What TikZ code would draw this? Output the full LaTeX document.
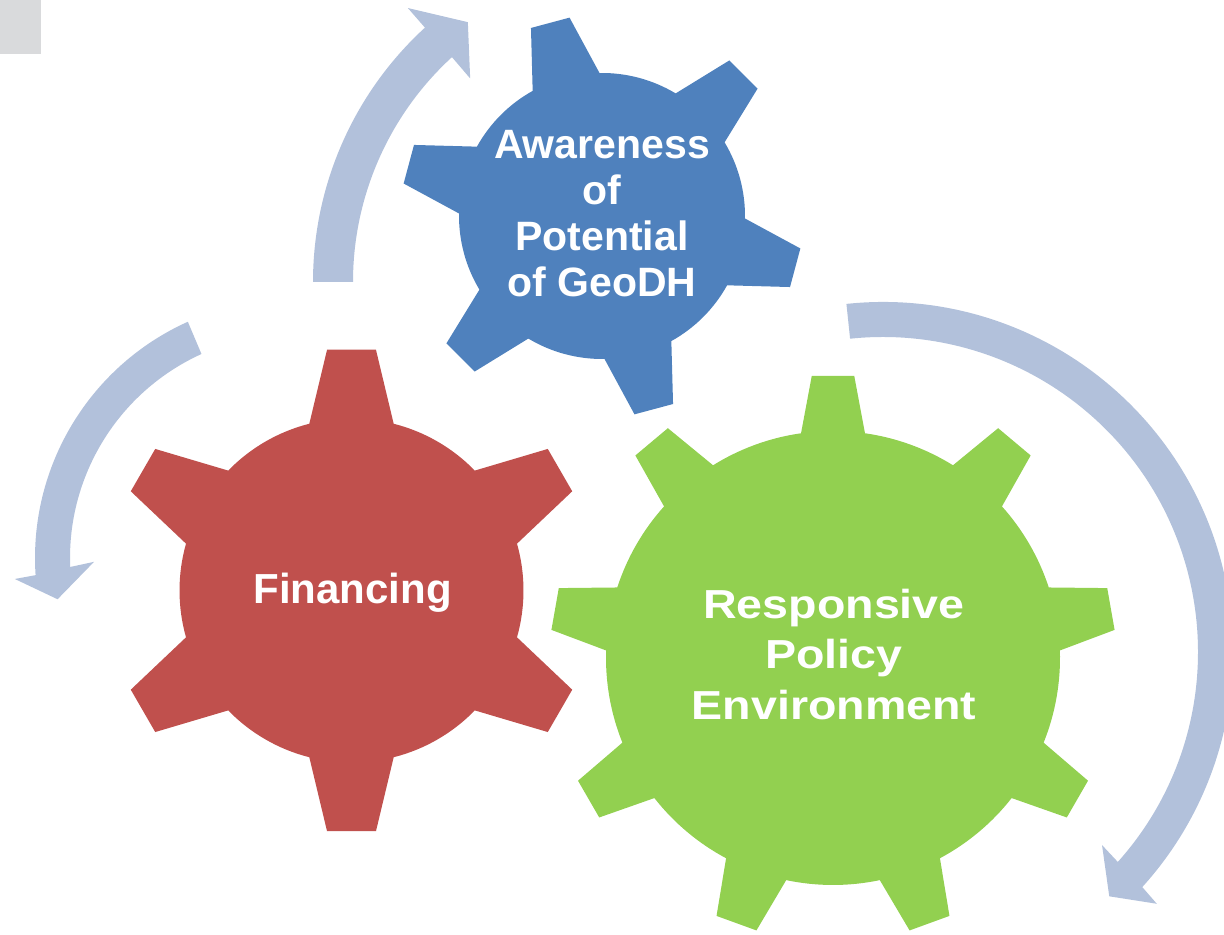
\documentclass[tikz,border=0pt]{standalone}
\usepackage{fontspec}
\setmainfont{Liberation Sans}
\newfontfamily\widesans[FakeStretch=1.15]{Liberation Sans}
\usepackage{color}

\definecolor{arrowblue}{HTML}{B2C1DB}
\definecolor{gearblue}{HTML}{4F81BD}
\definecolor{gearred}{HTML}{C0504D}
\definecolor{geargreen}{HTML}{92D050}
\definecolor{cornergray}{HTML}{D9DADC}

% #1 centre, #2 teeth, #3 first tooth angle, #4 tip radius, #5 body radius,
% #6 half angle at tip, #7 half angle at base, #8 colour
\newcommand{\drawgear}[8]{%
  \pgfmathsetmacro{\gstep}{360/#2}
  \fill[#8, shift={#1}] ({#3-#7}:#5)
    \foreach \k in {1,...,#2}{
      -- ({#3+(\k-1)*\gstep-#6}:#4) -- ({#3+(\k-1)*\gstep+#6}:#4)
      -- ({#3+(\k-1)*\gstep+#7}:#5)
      arc[start angle={#3+(\k-1)*\gstep+#7}, end angle={#3+\k*\gstep-#7}, radius=#5]
    } -- cycle;
}

\begin{document}
\begin{tikzpicture}[x=0.5pt, y=0.5pt,
  gearlabel/.style={text=white, inner sep=0pt, align=center}]
  \useasboundingbox (0,0) rectangle (1224,935);
  \clip (0,0) rectangle (1224,935);

  \fill[cornergray] (0,881) rectangle (41,935);

  % the three turning arrows
  \fill[arrowblue, shift={(658,653)}] (180:345)
    arc[start angle=180, end angle=132.5, radius=345]
    -- (132.4:371) -- (126.2:322) -- (132.7:277) -- (132.5:305)
    arc[start angle=132.5, end angle=180, radius=305] -- cycle;
  \fill[arrowblue, shift={(294,377)}] (114.2:259)
    arc[start angle=114.2, end angle=183.8, radius=259]
    -- (184.3:280) -- (189.9:240) -- (181.1:200) -- (182.3:224)
    arc[start angle=182.3, end angle=114.4, radius=224] -- cycle;
  \fill[arrowblue, shift={(883,283)}] (96:350)
    arc[start angle=96, end angle=-42.2, radius=350]
    -- (-42.6:372) -- (-47.2:333) -- (-41.4:292) -- (-41.8:315)
    arc[start angle=-41.8, end angle=96, radius=315] -- cycle;

  % gears
  \drawgear{(351.5,344.5)}{6}{90}{242}{172}{5.8}{14.2}{gearred}
  \drawgear{(602,719)}{6}{105}{201}{143}{5.7}{14}{gearblue}
  \drawgear{(833,277)}{9}{90}{283}{227}{4.3}{8.1}{geargreen}

  \node (awareness) at (602,721) [gearlabel, font=\fontsize{20.5}{23}\selectfont\bfseries]
    {Awareness\\of\\Potential\\of GeoDH};
  \node (financing) at (352.5,331) [gearlabel, anchor=base, font=\fontsize{21}{25}\selectfont\bfseries]
    {Financing};
  \node (policy) at (834,280.5) [gearlabel, font=\widesans\fontsize{20.25}{25.25}\selectfont\bfseries]
    {Responsive\\Policy\\Environment};
\end{tikzpicture}
\end{document}
